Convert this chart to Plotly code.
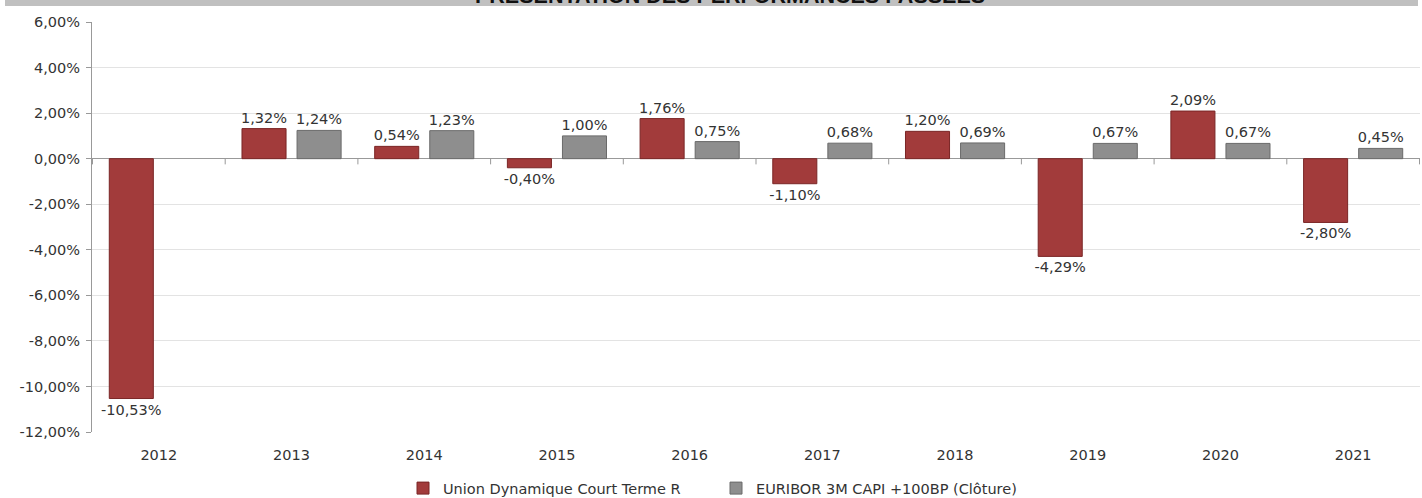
import plotly.graph_objects as go

years = ["2012", "2013", "2014", "2015", "2016", "2017", "2018", "2019", "2020", "2021"]
fund = [-10.53, 1.32, 0.54, -0.40, 1.76, -1.10, 1.20, -4.29, 2.09, -2.80]
bench = [None, 1.24, 1.23, 1.00, 0.75, 0.68, 0.69, 0.67, 0.67, 0.45]
fund_name = "Union Dynamique Court Terme R"
bench_name = "EURIBOR 3M CAPI +100BP (Clôture)"
tick_vals = [-12, -10, -8, -6, -4, -2, 0, 2, 4, 6]
title = "PRÉSENTATION DES PERFORMANCES PASSÉES"


def fmt(v):
    return "" if v is None else f"{v:.2f}%".replace(".", ",")


FONT = "DejaVu Sans"
FS = 14.5
fig = go.Figure()
fig.add_trace(go.Bar(
    x=years, y=fund, name=fund_name,
    marker=dict(color="#a23b3b", line=dict(color="#7a2626", width=1)),
    text=[fmt(v) for v in fund], textposition="outside", cliponaxis=False,
    constraintext="none",
    textfont=dict(family=FONT, size=FS, color="#333333"),
))
fig.add_trace(go.Bar(
    x=years, y=bench, name=bench_name,
    marker=dict(color="#8e8e8e", line=dict(color="#6a6a6a", width=1)),
    text=[fmt(v) for v in bench], textposition="outside", cliponaxis=False,
    constraintext="none",
    textfont=dict(family=FONT, size=FS, color="#333333"),
))

# category boundary ticks on the zero line
shapes = []
for i in range(len(years) + 1):
    shapes.append(dict(type="line", xref="x", yref="y", x0=i - 0.5, x1=i - 0.5,
                       y0=0, y1=-0.25, line=dict(color="#999999", width=1)))
# grey title band
shapes.append(dict(type="rect", xref="paper", yref="paper",
                   x0=(5 - 92) / 1328, x1=(1418 - 92) / 1328,
                   y0=1 + (22 - 6) / 410, y1=1 + 22 / 410,
                   fillcolor="#c0c0c0", line=dict(width=0), layer="below"))

fig.update_layout(
    width=1422, height=498,
    margin=dict(l=92, r=2, t=22, b=66, autoexpand=False),
    paper_bgcolor="white", plot_bgcolor="white",
    barmode="group", bargap=0.17, bargroupgap=0.2,
    font=dict(family=FONT, size=FS, color="#333333"),
    showlegend=True,
    legend=dict(orientation="h", x=(716 - 92) / 1328, xanchor="center", y=-0.137, yanchor="middle",
                font=dict(family=FONT, size=14.5, color="#333333"),
                itemwidth=30, traceorder="normal", entrywidth=268),
    shapes=shapes,
    annotations=[dict(text=f"<b>{title}</b>", xref="paper", yref="paper",
                      x=(730 - 92) / 1328, y=1 + (22 - 10) / 410,
                      xanchor="center", yanchor="bottom", showarrow=False,
                      font=dict(family="Liberation Sans", size=21.5, color="#111111"))],
)
fig.update_yaxes(
    range=[-12, 6], tickvals=tick_vals, ticktext=[fmt(v) for v in tick_vals],
    automargin=False,
    showgrid=True, gridcolor="#e3e3e3", gridwidth=1,
    zeroline=True, zerolinecolor="#999999", zerolinewidth=1,
    showline=True, linecolor="#999999", linewidth=1,
    ticks="outside", ticklen=5, tickcolor="#999999", ticklabelstandoff=3,
    tickfont=dict(family=FONT, size=FS, color="#333333"),
)
fig.update_xaxes(
    automargin=False,
    showgrid=False, showline=False, ticks="", ticklabelstandoff=12,
    tickfont=dict(family=FONT, size=FS, color="#333333"),
)
fig.write_html("out.html", config={"displayModeBar": False},
               post_script="document.body.style.margin='0';document.body.style.overflow='hidden';")
